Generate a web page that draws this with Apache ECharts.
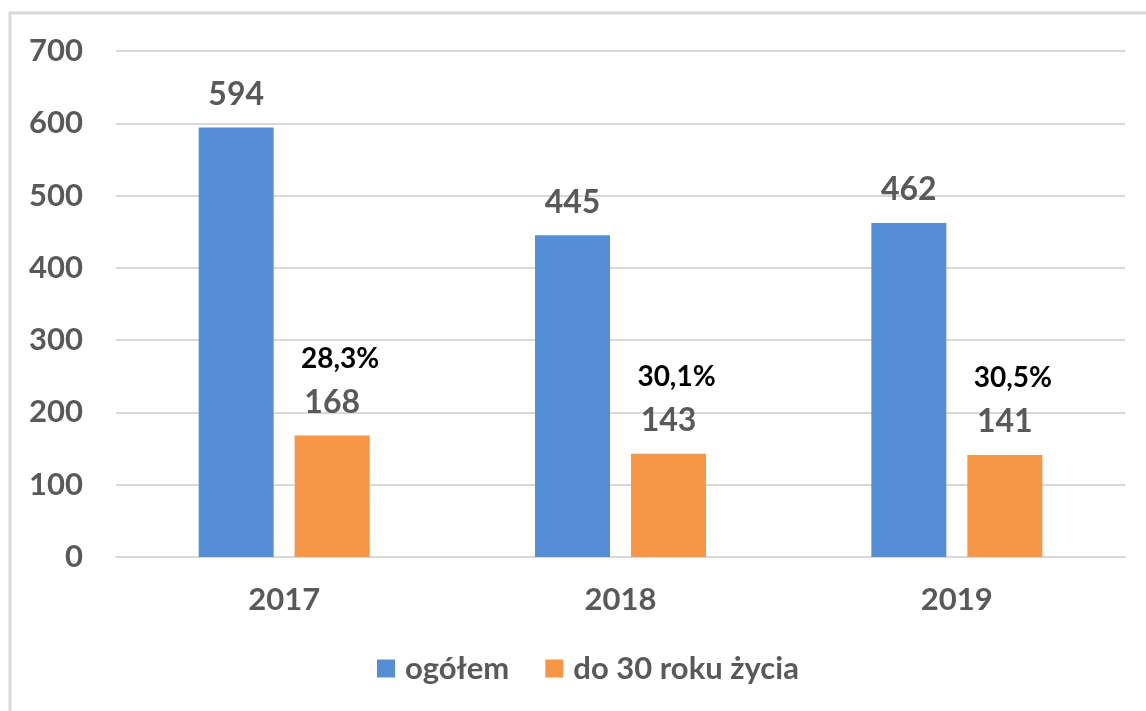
<!DOCTYPE html>
<html><head><meta charset="utf-8">
<script src="https://cdn.jsdelivr.net/npm/echarts@6/dist/echarts.min.js"></script>
<style>html,body{margin:0;padding:0;background:#fff}#c{width:1146px;height:711px}</style>
</head><body><div id="c"></div>
<script>
const categories = ['2017', '2018', '2019'];
const ogolem = [594, 445, 462];
const do30 = [168, 143, 141];
const shares = ['28,3%', '30,1%', '30,5%'];
const yTicks = [0, 100, 200, 300, 400, 500, 600, 700];

const FONT = 'Lato, "Liberation Sans", sans-serif';
const GRAY = '#595959';
const chart = echarts.init(document.getElementById('c'));
chart.setOption({
  animation: false,
  graphic: [{
    type: 'rect', shape: {x: 10, y: 13, width: 1300, height: 900},
    style: {fill: 'none', stroke: '#D9D9D9', lineWidth: 3}, silent: true
  }],
  grid: {left: 116, right: 21, top: 51, bottom: 154},
  legend: {
    left: 377, top: 653, padding: 0, itemWidth: 18, itemHeight: 18, itemGap: 36,
    icon: 'rect',
    textStyle: {fontFamily: FONT, fontSize: 31, fontWeight: 'bold', color: GRAY, padding: [0, 0, 0, 5]},
    data: ['ogółem', 'do 30 roku życia']
  },
  xAxis: {
    type: 'category', data: categories,
    axisLine: {lineStyle: {color: '#D9D9D9', width: 2}},
    axisTick: {show: false},
    axisLabel: {fontFamily: FONT, fontSize: 31, fontWeight: 'bold', color: GRAY, margin: 28, lineHeight: 30}
  },
  yAxis: {
    type: 'value', min: yTicks[0], max: yTicks[yTicks.length - 1], interval: yTicks[1] - yTicks[0],
    axisLine: {show: false}, axisTick: {show: false},
    splitLine: {lineStyle: {color: '#D9D9D9', width: 2}},
    axisLabel: {fontFamily: FONT, fontSize: 31, fontWeight: 'bold', color: GRAY, margin: 33}
  },
  series: [{
    name: 'ogółem', type: 'bar', data: ogolem,
    barWidth: 75, barGap: '28%',
    itemStyle: {color: '#558ED5'},
    label: {show: true, position: 'top', distance: 15, fontFamily: FONT, fontSize: 32, fontWeight: 'bold', color: GRAY, lineHeight: 36}
  }, {
    name: 'do 30 roku życia', type: 'bar', data: do30,
    barWidth: 75,
    itemStyle: {color: '#F79646'},
    label: {
      show: true, position: 'top', distance: 15,
      formatter: p => '{p|' + shares[p.dataIndex] + '}\n{v|' + p.value + '}',
      rich: {
        p: {fontFamily: FONT, fontSize: 28, fontWeight: 'bold', color: '#000', lineHeight: 52, padding: [0, 0, 0, 16]},
        v: {fontFamily: FONT, fontSize: 32, fontWeight: 'bold', color: GRAY, lineHeight: 36}
      }
    }
  }]
});
</script></body></html>
